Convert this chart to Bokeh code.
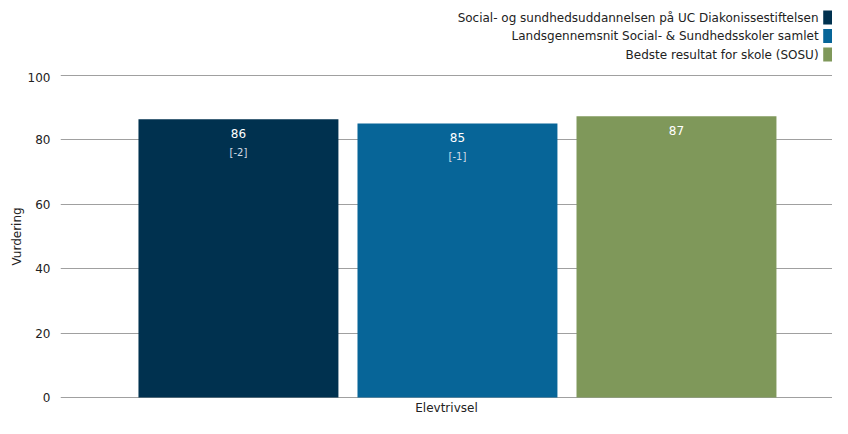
from bokeh.plotting import figure
from bokeh.layouts import column
from bokeh.models import FactorRange, Range1d, FixedTicker, ColumnDataSource
from bokeh.transform import dodge
from bokeh.core.properties import value
from bokeh.embed import file_html
from bokeh.resources import INLINE

categories = ["Elevtrivsel"]
series = [
    "Social- og sundhedsuddannelsen på UC Diakonissestiftelsen",
    "Landsgennemsnit Social- & Sundhedsskoler samlet",
    "Bedste resultat for skole (SOSU)",
]
values = [86.4, 85.1, 87.3]
value_labels = ["86", "85", "87"]
change_labels = ["[-2]", "[-1]", ""]
colors = ["#00314F", "#076598", "#7F985A"]
y_ticks = [0, 20, 40, 60, 80, 100]

FONT = "DejaVu Sans"
W = 832
LEG_H = 72
MAIN_H = 418 - LEG_H

# ---------- legend strip (text left of a colour square, right aligned) ----------
leg = figure(
    width=W, height=LEG_H,
    x_range=Range1d(0, W), y_range=Range1d(LEG_H, 0),
    output_backend="svg", toolbar_location=None,
    x_axis_type=None, y_axis_type=None,
    min_border_left=0, min_border_right=0, min_border_top=0, min_border_bottom=0,
)
leg.outline_line_color = None
leg.xgrid.grid_line_color = None
leg.ygrid.grid_line_color = None
leg.background_fill_color = "white"
leg.border_fill_color = "white"

row_y = [17 + 18.5 * i for i in range(len(series))]
leg_src = ColumnDataSource(dict(name=series, color=colors, y=row_y))
leg.quad(left=W - 10, right=W, top=dodge("y", -7), bottom=dodge("y", 7),
         source=leg_src, fill_color="color", line_color=None)
leg.text(x=W - 15, y="y", text="name", source=leg_src,
         text_align="right", text_baseline="middle", text_color="#222222",
         text_font=value(FONT), text_font_size="12px")

# ---------- main chart ----------
p = figure(
    width=W, height=MAIN_H,
    x_range=FactorRange(*categories, range_padding=0),
    y_range=Range1d(-0.3, 100.3),
    output_backend="svg", toolbar_location=None,
    min_border_left=60, min_border_right=0,
    min_border_top=2, min_border_bottom=20,
)
p.outline_line_color = None
p.background_fill_color = "white"
p.border_fill_color = "white"

p.hspan(y=y_ticks, line_color="#a0a0a0", line_width=1)

shift = 0.0142
offsets = [-0.2837 + shift, shift, 0.2837 + shift]
for i in range(len(series)):
    src = ColumnDataSource(dict(
        cat=categories, val=[values[i]],
        lab=[value_labels[i]], chg=[change_labels[i]],
    ))
    xd = dodge("cat", offsets[i], range=p.x_range)
    p.vbar(x=xd, top="val", bottom=0, width=0.259, source=src,
           fill_color=colors[i], line_color=None)
    p.text(x=xd, y="val", text="lab", source=src, y_offset=10,
           text_align="center", text_baseline="top", text_color="white",
           text_font=value(FONT), text_font_size="12px")
    p.text(x=xd, y="val", text="chg", source=src, y_offset=28,
           text_align="center", text_baseline="top", text_color="#d4dde6",
           text_font=value(FONT), text_font_size="10px")

for ax in (p.xaxis, p.yaxis):
    ax.axis_line_color = None
    ax.major_tick_line_color = None
    ax.minor_tick_line_color = None
    ax.major_tick_out = 0
    ax.major_tick_in = 0
    ax.minor_tick_out = 0
    ax.minor_tick_in = 0
    ax.major_label_text_font = FONT
    ax.major_label_text_font_size = "12px"
    ax.major_label_text_color = "#222222"

p.yaxis.ticker = FixedTicker(ticks=y_ticks)
p.yaxis.major_label_standoff = 10
p.yaxis.axis_label = "Vurdering"
p.yaxis.axis_label_text_font = FONT
p.yaxis.axis_label_text_font_size = "12px"
p.yaxis.axis_label_text_font_style = "normal"
p.yaxis.axis_label_text_color = "#222222"
p.yaxis.axis_label_standoff = 1
p.xaxis.major_label_standoff = 2

p.xgrid.grid_line_color = None
p.ygrid.grid_line_color = None

layout = column(leg, p, spacing=0)
open("out.html", "w").write(file_html(layout, INLINE))
